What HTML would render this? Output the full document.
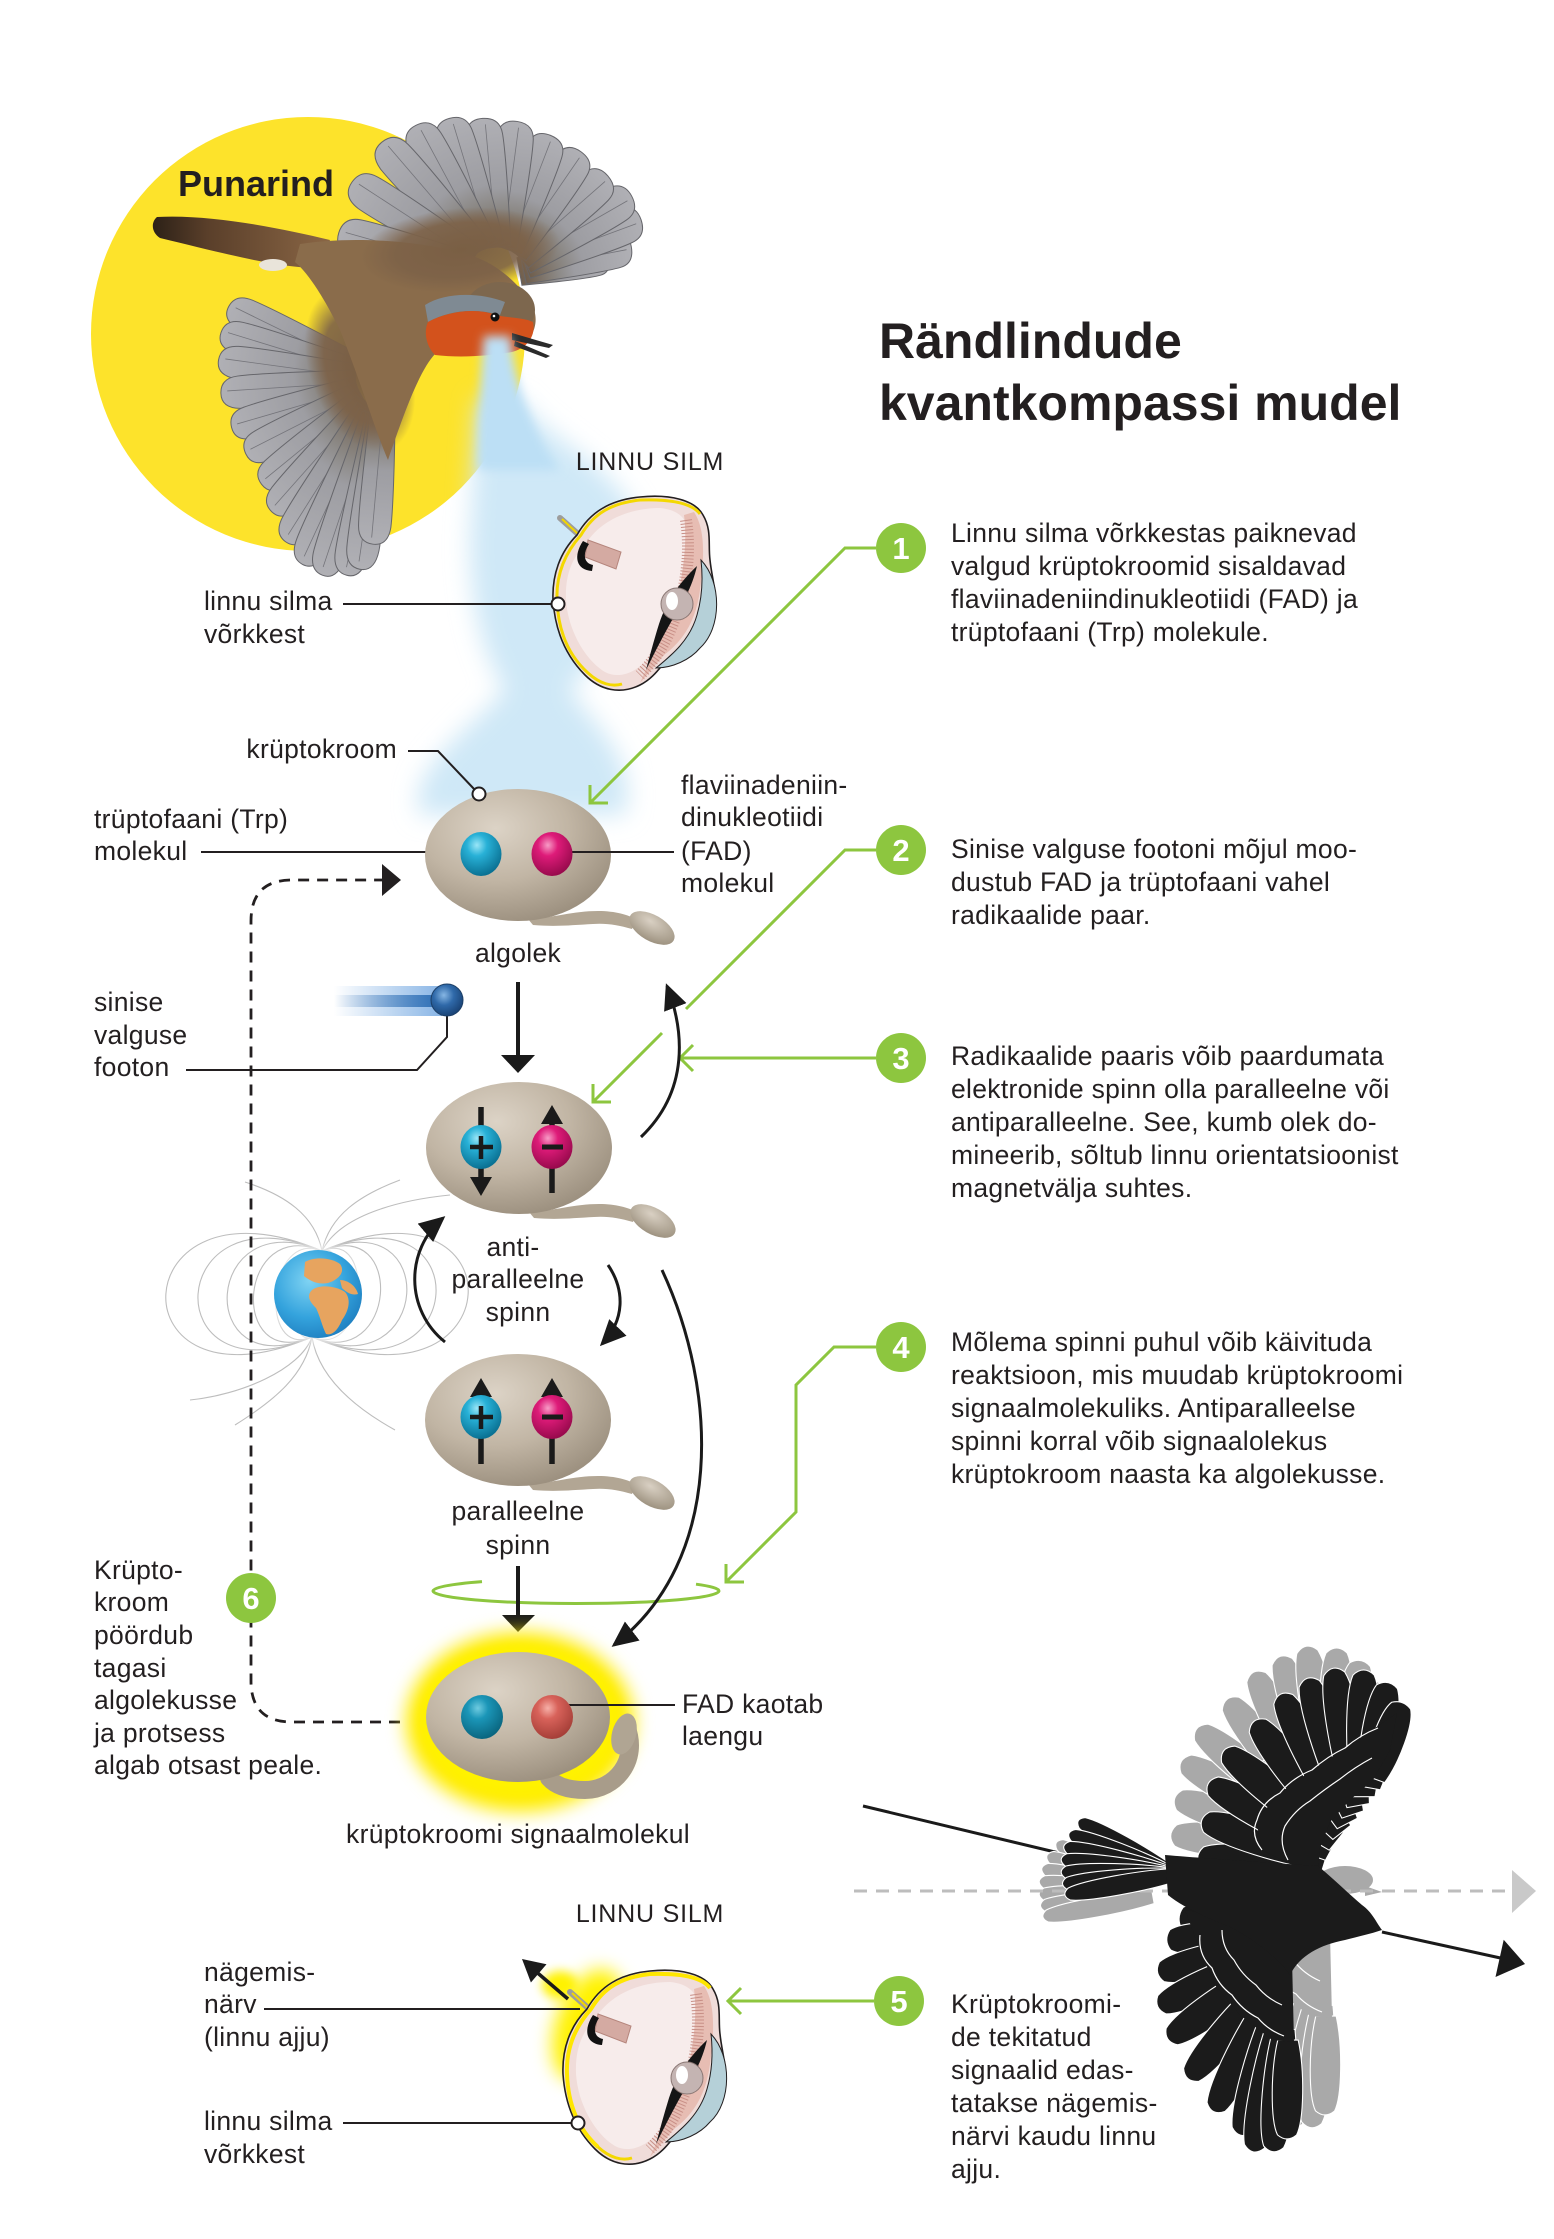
<!DOCTYPE html>
<html><head><meta charset="utf-8">
<style>
html,body{margin:0;padding:0;background:#fff;}
svg{display:block;}
text{font-family:"Liberation Sans",Arial,sans-serif;fill:#231f20;}
.t{font-size:26.5px;letter-spacing:0.3px;}
.n{font-size:31px;font-weight:bold;fill:#fff;text-anchor:middle;}
.m{text-anchor:middle;}
</style></head><body>
<svg width="1554" height="2239" viewBox="0 0 1554 2239" xmlns="http://www.w3.org/2000/svg">
<defs>
 <radialGradient id="bod" cx="38%" cy="30%" r="72%"><stop offset="0" stop-color="#dcd3c6"/><stop offset="0.55" stop-color="#c1b5a4"/><stop offset="1" stop-color="#9d9180"/></radialGradient>
 <radialGradient id="tlg" cx="40%" cy="30%" r="70%"><stop offset="0" stop-color="#d9d0c3"/><stop offset="1" stop-color="#9f9482"/></radialGradient>
 <radialGradient id="bb" cx="40%" cy="30%" r="70%"><stop offset="0" stop-color="#9ae6f7"/><stop offset="0.35" stop-color="#28b1d7"/><stop offset="1" stop-color="#0a7193"/></radialGradient>
 <radialGradient id="pb" cx="40%" cy="30%" r="70%"><stop offset="0" stop-color="#f79cc6"/><stop offset="0.35" stop-color="#de1b79"/><stop offset="1" stop-color="#990a4d"/></radialGradient>
 <radialGradient id="rb" cx="40%" cy="30%" r="70%"><stop offset="0" stop-color="#f6b0a8"/><stop offset="0.35" stop-color="#d8625a"/><stop offset="1" stop-color="#a63f38"/></radialGradient>
 <radialGradient id="tb" cx="40%" cy="30%" r="70%"><stop offset="0" stop-color="#6fcbe0"/><stop offset="0.35" stop-color="#1b96b8"/><stop offset="1" stop-color="#0a6680"/></radialGradient>
 <radialGradient id="ph" cx="40%" cy="35%" r="70%"><stop offset="0" stop-color="#86b6e4"/><stop offset="0.45" stop-color="#2f69a9"/><stop offset="1" stop-color="#173f70"/></radialGradient>
 <linearGradient id="tr1" x1="334" y1="0" x2="440" y2="0" gradientUnits="userSpaceOnUse"><stop offset="0" stop-color="#8ab6e6" stop-opacity="0"/><stop offset="1" stop-color="#8ab6e6"/></linearGradient>
 <linearGradient id="tr2" x1="334" y1="0" x2="440" y2="0" gradientUnits="userSpaceOnUse"><stop offset="0" stop-color="#2f6fb5" stop-opacity="0"/><stop offset="1" stop-color="#2f6fb5"/></linearGradient>
 <radialGradient id="globe" cx="40%" cy="35%" r="70%"><stop offset="0" stop-color="#7fd3f3"/><stop offset="0.6" stop-color="#34a3dd"/><stop offset="1" stop-color="#1f7fc0"/></radialGradient>
 <linearGradient id="fg" x1="0" y1="0" x2="1" y2="0"><stop offset="0" stop-color="#6f5e4c"/><stop offset="0.3" stop-color="#8c8986"/><stop offset="0.45" stop-color="#9d9da2"/><stop offset="1" stop-color="#b0b0b5"/></linearGradient>
 <linearGradient id="tailc" x1="155" y1="0" x2="330" y2="0" gradientUnits="userSpaceOnUse"><stop offset="0" stop-color="#2e2218"/><stop offset="0.3" stop-color="#5a3f2a"/><stop offset="1" stop-color="#8a6645"/></linearGradient>
 <radialGradient id="cov"><stop offset="0" stop-color="#7a5f44"/><stop offset="0.65" stop-color="#7d6248" stop-opacity="0.9"/><stop offset="1" stop-color="#7d6248" stop-opacity="0"/></radialGradient>
 <filter id="bl12" x="-50%" y="-50%" width="200%" height="200%"><feGaussianBlur stdDeviation="12"/></filter>
 <filter id="bl5" x="-50%" y="-50%" width="200%" height="200%"><feGaussianBlur stdDeviation="5"/></filter>
 <filter id="bl9" x="-50%" y="-50%" width="200%" height="200%"><feGaussianBlur stdDeviation="9"/></filter>
 <marker id="ah" markerUnits="userSpaceOnUse" markerWidth="28" markerHeight="28" viewBox="0 0 28 28" refX="23" refY="14" orient="auto"><path d="M0,2 L26,14 L0,26 Z" fill="#1a1a1a"/></marker>
 <g id="fth">
  <path d="M0.18,-0.07 C0.5,-0.09 0.8,-0.1 0.9,-0.095 Q1.015,-0.085 1.01,0 Q1.005,0.085 0.9,0.09 C0.8,0.095 0.5,0.085 0.18,0.07 Z" fill="url(#fg)" stroke="#66666b" stroke-width="1" vector-effect="non-scaling-stroke"/>
  <path d="M0.3,0 L0.97,0.01" stroke="#74747a" stroke-width="0.8" vector-effect="non-scaling-stroke" fill="none"/>
 </g>
 <path id="bf" d="M0,-0.3 C0.3,-0.5 0.8,-0.5 0.95,-0.28 Q1.03,0 0.95,0.28 C0.8,0.5 0.3,0.5 0,0.3 Z" stroke="#fff" stroke-width="1.1" vector-effect="non-scaling-stroke"/>
 <g id="uw">
  <use href="#bf" transform="translate(1320,1868) rotate(-174.9) scale(124,38)"/>
  <use href="#bf" transform="translate(1325.5,1859.1) rotate(-162.7) scale(131,38)"/>
  <use href="#bf" transform="translate(1330.9,1850.2) rotate(-151.5) scale(141,38)"/>
  <use href="#bf" transform="translate(1336.4,1841.3) rotate(-141.2) scale(146,38)"/>
  <use href="#bf" transform="translate(1341.8,1832.4) rotate(-128.3) scale(143,38)"/>
  <use href="#bf" transform="translate(1347.3,1823.5) rotate(-117.3) scale(147,38)"/>
  <use href="#bf" transform="translate(1352.7,1814.5) rotate(-108.4) scale(145,38)"/>
  <use href="#bf" transform="translate(1358.2,1805.6) rotate(-100.3) scale(141,38)"/>
  <use href="#bf" transform="translate(1363.6,1796.7) rotate(-90) scale(128,38)"/>
  <use href="#bf" transform="translate(1369.1,1787.8) rotate(-80) scale(108,38)"/>
  <use href="#bf" transform="translate(1374.5,1778.9) rotate(-70) scale(82,36)"/>
  <path d="M1318,1870 L1290,1864 L1262,1850 L1256,1820 L1280,1793 L1312,1770 L1345,1748 L1375,1728 L1397,1713 L1390,1750 L1373,1780 L1350,1800 L1330,1822 L1320,1848 Z"/>
  <path d="M1262,1850 Q1250,1835 1257,1820 Q1262,1802 1280,1793 Q1292,1778 1312,1770 Q1328,1756 1345,1748 Q1360,1735 1378,1728" fill="none" stroke="#fff" stroke-width="1.2"/>
  <path d="M1288,1860 Q1278,1842 1285,1826 Q1295,1810 1310,1801 Q1325,1789 1340,1779 Q1355,1767 1372,1758" fill="none" stroke="#fff" stroke-width="1.2"/>
 </g>
 <g id="lw">
  <use href="#bf" transform="translate(1250,1925) rotate(-173.5) scale(72,36)"/>
  <use href="#bf" transform="translate(1253.8,1936.5) rotate(177.7) scale(88,36)"/>
  <use href="#bf" transform="translate(1257.6,1948) rotate(166) scale(104,36)"/>
  <use href="#bf" transform="translate(1261.4,1959.5) rotate(155.5) scale(115,36)"/>
  <use href="#bf" transform="translate(1265.2,1971) rotate(144.9) scale(120,36)"/>
  <use href="#bf" transform="translate(1269,1982.5) rotate(130.1) scale(127,36)"/>
  <use href="#bf" transform="translate(1272.8,1994) rotate(116.7) scale(133,36)"/>
  <use href="#bf" transform="translate(1276.6,2005.5) rotate(105.6) scale(136,36)"/>
  <use href="#bf" transform="translate(1280.4,2017) rotate(101.4) scale(139,36)"/>
  <use href="#bf" transform="translate(1284.2,2028.5) rotate(95.1) scale(125,36)"/>
  <use href="#bf" transform="translate(1288,2040) rotate(90.6) scale(100,34)"/>
  <path d="M1185,1910 L1250,1920 L1292,1958 L1294,2042 L1272,2040 L1240,2015 L1215,1985 L1200,1950 Z"/>
  <path d="M1200,1935 Q1198,1955 1212,1968 Q1218,1985 1232,1995 Q1242,2010 1258,2018 Q1268,2030 1284,2036" fill="none" stroke="#fff" stroke-width="1.2"/>
  <path d="M1222,1930 Q1222,1948 1234,1960 Q1242,1975 1256,1985 Q1266,1998 1282,2005" fill="none" stroke="#fff" stroke-width="1.2"/>
 </g>
 <g id="tl">
  <use href="#bf" transform="translate(1175,1875) rotate(-150.7) scale(112,22)"/>
  <use href="#bf" transform="translate(1175,1875) rotate(-158.6) scale(115,22)"/>
  <use href="#bf" transform="translate(1175,1875) rotate(-165.5) scale(116,22)"/>
  <use href="#bf" transform="translate(1175,1875) rotate(-172.1) scale(116,22)"/>
  <use href="#bf" transform="translate(1175,1875) rotate(-178.5) scale(115,22)"/>
  <use href="#bf" transform="translate(1175,1875) rotate(175.5) scale(114,22)"/>
  <use href="#bf" transform="translate(1175,1875) rotate(169.8) scale(113,22)"/>
 </g>
 <g id="mol">
  <path d="M10,64 C35,63 55,56 80,56 C98,56 110,60 118,64 L114,74 C100,70 88,68 75,69 C55,70 38,72 15,70 Z" fill="#b2a694"/>
  <ellipse cx="134" cy="73" rx="25" ry="13" transform="rotate(30 134 73)" fill="url(#tlg)"/>
  <ellipse cx="0" cy="0" rx="93" ry="66" fill="url(#bod)"/>
 </g>
 <g id="eye">
  <path d="M578,534 L560,518" stroke="#9d9d9d" stroke-width="6" stroke-linecap="round"/>
  <path d="M578,534 L562,519" stroke="#f2d600" stroke-width="2"/>
  <path d="M577,535 C590,512 610,500 640,497 C670,494 695,500 703,515 C712,530 708,545 710,560 C712,580 718,595 715,615 C712,635 700,645 680,650 C665,655 660,675 640,685 C620,695 600,690 585,675 C565,655 555,630 553,600 C552,575 560,552 577,535 Z" fill="#f0dcd9" stroke="#231f20" stroke-width="1.6"/>
  <path d="M585,545 C600,520 630,508 660,508 C680,510 690,520 688,540 C686,580 672,620 655,650 C640,672 620,680 605,672 C585,660 568,630 566,600 C565,575 572,558 585,545 Z" fill="#f7eceb"/>
  <path d="M694,512 C706,530 704,560 700,590 C696,620 684,640 664,655 L640,683 C650,660 662,640 672,615 C682,585 688,545 684,515 Z" fill="#e7bdb3"/>
  <path d="M686,520 C692,560 684,600 668,635 C660,652 650,665 640,675" fill="none" stroke="#c88f86" stroke-width="12" stroke-dasharray="1 2.2"/>
  <path d="M701,560 C722,582 722,628 700,648 C690,660 672,668 656,668 C672,655 690,640 697,615 C702,598 703,578 701,560 Z" fill="#b5d0d8" stroke="#231f20" stroke-width="1"/>
  <path d="M697,566 C680,582 667,600 659,624 C654,640 650,655 646,670 C655,652 662,638 671,622 C682,604 692,588 697,566 Z" fill="#151515"/>
  <circle cx="677" cy="604" r="16" fill="#c4b4b2" stroke="#8a7774" stroke-width="1"/>
  <ellipse cx="672" cy="601" rx="6" ry="9" fill="#fff"/>
  <path d="M700,514 C692,503 670,499 640,500 C612,503 594,513 581,535 C565,553 556,575 557,600 C558,630 568,655 588,673 C600,684 612,687 622,684" fill="none" stroke="#f4d800" stroke-width="3"/>
  <path d="M588,540 L621,552 L616,569 L585,557 Z" fill="#d4aaa2" stroke="#b5857c" stroke-width="1"/>
  <path d="M583,541 C573,556 576,570 592,571 L593,565 C583,563 583,553 589,544 Z" fill="#111"/>
 </g>
</defs>

<!-- yellow sun -->
<circle cx="308" cy="334" r="217" fill="#fde32b"/>
<text x="178" y="196" style="font-size:36px;font-weight:bold;">Punarind</text>

<!-- robin -->
<g>
 <path d="M157,217 C210,214 280,228 330,240 L318,268 C280,268 230,255 160,238 C151,232 151,222 157,217 Z" fill="url(#tailc)"/>
 <ellipse cx="273" cy="265" rx="14" ry="6" fill="#e9e4da"/>
 <use href="#fth" transform="translate(385,380) rotate(-154.8) scale(171,175)"/>
 <use href="#fth" transform="translate(385,380) rotate(-163.8) scale(169,175)"/>
 <use href="#fth" transform="translate(385,380) rotate(-173.1) scale(166,175)"/>
 <use href="#fth" transform="translate(385,380) rotate(175.4) scale(163,175)"/>
 <use href="#fth" transform="translate(385,380) rotate(162.8) scale(159,175)"/>
 <use href="#fth" transform="translate(385,380) rotate(152.1) scale(156,175)"/>
 <use href="#fth" transform="translate(385,380) rotate(139.8) scale(160,175)"/>
 <use href="#fth" transform="translate(385,380) rotate(130.7) scale(172,175)"/>
 <use href="#fth" transform="translate(385,380) rotate(121.5) scale(188,175)"/>
 <use href="#fth" transform="translate(385,380) rotate(114.1) scale(200,175)"/>
 <use href="#fth" transform="translate(385,380) rotate(107.8) scale(203,175)"/>
 <use href="#fth" transform="translate(385,380) rotate(101.1) scale(197,175)"/>
 <use href="#fth" transform="translate(385,380) rotate(97.6) scale(189,175)"/>
 <use href="#fth" transform="translate(385,380) rotate(94.2) scale(163,175)"/>
 <ellipse cx="360" cy="370" rx="50" ry="85" transform="rotate(-20 360 370)" fill="url(#cov)"/>
 <use href="#fth" transform="translate(500,275) rotate(-10.2) scale(110,200)"/>
 <use href="#fth" transform="translate(500,275) rotate(-12.2) scale(133,200)"/>
 <use href="#fth" transform="translate(500,275) rotate(-21.4) scale(150,200)"/>
 <use href="#fth" transform="translate(500,275) rotate(-31) scale(152,200)"/>
 <use href="#fth" transform="translate(500,275) rotate(-42.5) scale(145,200)"/>
 <use href="#fth" transform="translate(500,275) rotate(-56.7) scale(146,200)"/>
 <use href="#fth" transform="translate(500,275) rotate(-70.1) scale(147,200)"/>
 <use href="#fth" transform="translate(500,275) rotate(-83.6) scale(153,200)"/>
 <use href="#fth" transform="translate(500,275) rotate(-96.3) scale(156,200)"/>
 <use href="#fth" transform="translate(500,275) rotate(-107.9) scale(163,200)"/>
 <use href="#fth" transform="translate(500,275) rotate(-119.3) scale(170,200)"/>
 <use href="#fth" transform="translate(500,275) rotate(-131.6) scale(176,200)"/>
 <use href="#fth" transform="translate(500,275) rotate(-147.9) scale(173,200)"/>
 <use href="#fth" transform="translate(500,275) rotate(-165.3) scale(165,200)"/>
 <path d="M300,244 C350,236 420,240 470,255 C500,265 520,285 532,305 C540,320 535,340 515,350 C495,357 460,356 435,354 C420,370 405,410 388,460 C375,430 360,380 340,330 C325,300 310,275 295,262 Z" fill="#8a6c4b"/>
 <ellipse cx="460" cy="250" rx="100" ry="42" transform="rotate(-5 460 250)" fill="url(#cov)"/>
 <ellipse cx="500" cy="310" rx="35" ry="28" fill="#7d674e"/>
 <path d="M425,305 C445,292 480,292 505,302 L500,315 C475,308 450,310 428,322 Z" fill="#7f8a93"/>
 <path d="M428,322 C450,310 480,308 495,315 C510,318 525,318 533,322 C536,335 528,348 512,352 C490,356 460,358 435,355 C425,345 424,330 428,322 Z" fill="#d3521c"/>
 <circle cx="495" cy="317" r="4.5" fill="#111"/>
 <circle cx="494" cy="316" r="1.3" fill="#fff"/>
 <path d="M512,333 L553,345 L549,348 L512,340 Z" fill="#2b2b2b"/>
 <path d="M515,341 L550,356 L546,358 L514,346 Z" fill="#2b2b2b"/>
</g>

<!-- light beam -->
<path d="M478,400 L520,400 C545,440 630,470 645,540 C650,600 610,640 570,690 C590,720 640,760 625,815 L420,815 C405,770 470,730 505,690 C480,650 470,600 470,540 Z" fill="#cfe8f7" filter="url(#bl12)"/>
<path d="M484,336 L510,336 C515,380 530,430 560,470 L478,470 C478,420 480,380 484,336 Z" fill="#bcdff5" filter="url(#bl5)"/>

<!-- title -->
<text x="879" y="358" style="font-size:50px;font-weight:bold;">Rändlindude</text>
<text x="879" y="420" style="font-size:50px;font-weight:bold;">kvantkompassi mudel</text>

<!-- top eye -->
<use href="#eye"/>
<text x="650" y="470" class="m" style="font-size:25px;letter-spacing:0.8px;">LINNU SILM</text>
<text x="204" y="610" class="t">linnu silma</text>
<text x="204" y="643" class="t">võrkkest</text>
<line x1="343" y1="604" x2="552" y2="604" stroke="#231f20" stroke-width="2"/>
<circle cx="558" cy="604" r="6.5" fill="#fff" stroke="#231f20" stroke-width="2"/>

<!-- earth field lines -->
<g fill="none" stroke="#bdbdbd" stroke-width="1.1">
 <path d="M322,1251 C350.6,1238.9 340.6,1349.1 312,1337"/>
 <path d="M322,1251 C293.4,1238.9 283.4,1349.1 312,1337"/>
 <path d="M322,1251 C376.6,1227.9 366.6,1360.1 312,1337"/>
 <path d="M322,1251 C267.4,1227.9 257.4,1360.1 312,1337"/>
 <path d="M322,1251 C406.5,1215.25 396.5,1372.75 312,1337"/>
 <path d="M322,1251 C237.5,1215.25 227.5,1372.75 312,1337"/>
 <path d="M322,1251 C441.6,1200.4 431.6,1387.6 312,1337"/>
 <path d="M322,1251 C202.4,1200.4 192.4,1387.6 312,1337"/>
 <path d="M322,1251 C480.6,1183.9 470.6,1404.1 312,1337"/>
 <path d="M322,1251 C163.4,1183.9 153.4,1404.1 312,1337"/>
 <path d="M322,1251 C523.5,1165.75 513.5,1422.25 312,1337"/>
 <path d="M322,1251 C120.5,1165.75 110.5,1422.25 312,1337"/>
 <path d="M322,1251 C330,1215 360,1195 400,1180"/>
 <path d="M322,1251 C315,1215 285,1195 245,1182"/>
 <path d="M322,1251 C340,1215 400,1200 450,1195"/>
 <path d="M312,1337 C318,1375 350,1405 395,1430"/>
 <path d="M312,1337 C305,1375 275,1400 235,1425"/>
 <path d="M312,1337 C300,1370 240,1395 190,1400"/>
</g>
<circle cx="318" cy="1294" r="50" fill="#fff" opacity="0.7" filter="url(#bl5)"/>
<circle cx="318" cy="1294" r="44" fill="url(#globe)"/>
<path d="M312,1290 C320,1284 336,1286 345,1292 C352,1300 348,1312 342,1320 C338,1330 332,1336 326,1334 C322,1326 320,1316 316,1308 C310,1302 306,1296 312,1290 Z" fill="#e7a45f"/>
<path d="M305,1262 C315,1256 332,1258 340,1264 C346,1272 338,1280 328,1283 C318,1285 310,1281 304,1276 Z" fill="#e7a45f"/>
<path d="M340,1280 C348,1280 356,1286 358,1294 C352,1296 346,1292 342,1288 Z" fill="#e7a45f"/>

<!-- green arrows -->
<g fill="none" stroke="#8dc63f" stroke-width="3">
 <polyline points="876,548 845,548 590,803"/>
 <polyline points="608,803 590,803 590,785"/>
 <polyline points="876,850 845,850 686,1009"/>
 <polyline points="662,1033 593,1102"/>
 <polyline points="611,1102 593,1102 593,1084"/>
 <line x1="876" y1="1058" x2="680" y2="1058"/>
 <polyline points="693,1045 680,1058 693,1071"/>
 <polyline points="876,1347 834,1347 796,1385 796,1512 726,1582"/>
 <polyline points="744,1582 726,1582 726,1564"/>
 <line x1="874" y1="2001" x2="728" y2="2001"/>
 <polyline points="741,1988 728,2001 741,2014"/>
 <path d="M433,1591 A143,12.5 0 0 0 719,1591"/>
 <path d="M433,1591 A143,12.5 0 0 1 482,1581.6"/>
 <path d="M696,1584.2 A143,12.5 0 0 1 719,1591"/>
</g>

<!-- dashed return line -->
<path d="M400,1722 L292,1722 Q251,1722 251,1681 L251,921 Q251,880 292,880 L384,880" stroke="#231f20" stroke-width="2.8" stroke-dasharray="11 8" fill="none"/>
<polygon points="382,864 401,880 382,896" fill="#231f20"/>

<!-- labels near algolek -->
<text x="397" y="758" class="t" text-anchor="end">krüptokroom</text>
<polyline points="408,751 438,751 475,790" fill="none" stroke="#231f20" stroke-width="2"/>
<text x="94" y="828" class="t">trüptofaani (Trp)</text>
<text x="94" y="860" class="t">molekul</text>
<line x1="201" y1="852" x2="470" y2="852" stroke="#231f20" stroke-width="2"/>
<text x="681" y="794" class="t">flaviinadeniin-</text>
<text x="681" y="826" class="t">dinukleotiidi</text>
<text x="681" y="860" class="t">(FAD)</text>
<text x="681" y="892" class="t">molekul</text>

<!-- algolek molecule -->
<use href="#mol" transform="translate(518,855)"/>
<ellipse cx="481" cy="854" rx="20.5" ry="22" fill="url(#bb)"/>
<line x1="565" y1="852" x2="674" y2="852" stroke="#231f20" stroke-width="2"/>
<ellipse cx="552" cy="854" rx="20.5" ry="22" fill="url(#pb)"/>
<circle cx="479" cy="794" r="6.5" fill="#fff" stroke="#231f20" stroke-width="2"/>
<text x="518" y="962" class="t m">algolek</text>

<!-- photon -->
<rect x="334" y="986" width="108" height="30" fill="url(#tr1)"/>
<rect x="334" y="995" width="108" height="12" fill="url(#tr2)"/>
<polyline points="447,1014 447,1037 417,1070 186,1070" fill="none" stroke="#231f20" stroke-width="2"/>
<circle cx="447" cy="1000" r="16" fill="url(#ph)" stroke="#1d3f66" stroke-width="1"/>
<text x="94" y="1011" class="t">sinise</text>
<text x="94" y="1044" class="t">valguse</text>
<text x="94" y="1076" class="t">footon</text>

<!-- arrow algolek -> anti -->
<line x1="518" y1="982" x2="518" y2="1058" stroke="#1a1a1a" stroke-width="4"/>
<polygon points="501,1055 535,1055 518,1073" fill="#1a1a1a"/>

<!-- anti molecule -->
<use href="#mol" transform="translate(519,1148)"/>
<line x1="481" y1="1107" x2="481" y2="1180" stroke="#1a1a1a" stroke-width="5.5"/>
<polygon points="470,1177 492,1177 481,1196" fill="#1a1a1a"/>
<line x1="552" y1="1193" x2="552" y2="1120" stroke="#1a1a1a" stroke-width="5.5"/>
<polygon points="541,1124 563,1124 552,1105" fill="#1a1a1a"/>
<ellipse cx="481" cy="1147" rx="20.5" ry="22" fill="url(#bb)"/>
<ellipse cx="552" cy="1147" rx="20.5" ry="22" fill="url(#pb)"/>
<line x1="470" y1="1147" x2="493" y2="1147" stroke="#1a1a1a" stroke-width="4.5"/>
<line x1="481" y1="1136" x2="481" y2="1159" stroke="#1a1a1a" stroke-width="4.5"/>
<line x1="542" y1="1147" x2="563" y2="1147" stroke="#1a1a1a" stroke-width="5"/>
<text x="513" y="1256" class="t m">anti-</text>
<text x="518" y="1288" class="t m">paralleelne</text>
<text x="518" y="1321" class="t m">spinn</text>

<!-- curved arrows -->
<g fill="none" stroke="#1a1a1a" stroke-width="3" marker-end="url(#ah)">
 <path d="M641,1137 C690,1090 684,1030 667,986"/>
 <path d="M445,1342 C405,1310 405,1250 443,1218"/>
 <path d="M608,1265 C625,1290 625,1320 602,1344"/>
 <path d="M662,1270 C718,1390 725,1560 614,1645"/>
</g>

<!-- parallel molecule -->
<use href="#mol" transform="translate(518,1420)"/>
<line x1="481" y1="1464" x2="481" y2="1395" stroke="#1a1a1a" stroke-width="5.5"/>
<polygon points="470,1397 492,1397 481,1378" fill="#1a1a1a"/>
<line x1="552" y1="1464" x2="552" y2="1395" stroke="#1a1a1a" stroke-width="5.5"/>
<polygon points="541,1397 563,1397 552,1378" fill="#1a1a1a"/>
<ellipse cx="481" cy="1417" rx="20.5" ry="22" fill="url(#bb)"/>
<ellipse cx="552" cy="1417" rx="20.5" ry="22" fill="url(#pb)"/>
<line x1="470" y1="1417" x2="493" y2="1417" stroke="#1a1a1a" stroke-width="4.5"/>
<line x1="481" y1="1406" x2="481" y2="1429" stroke="#1a1a1a" stroke-width="4.5"/>
<line x1="542" y1="1417" x2="563" y2="1417" stroke="#1a1a1a" stroke-width="5"/>
<text x="518" y="1520" class="t m">paralleelne</text>
<text x="518" y="1554" class="t m">spinn</text>

<!-- arrow parallel -> signal -->
<line x1="518" y1="1566" x2="518" y2="1618" stroke="#1a1a1a" stroke-width="4"/>
<polygon points="502,1615 535,1615 518,1632" fill="#1a1a1a"/>

<!-- signal molecule -->
<ellipse cx="520" cy="1722" rx="114" ry="90" fill="#ffec00" filter="url(#bl9)"/>
<ellipse cx="520" cy="1720" rx="100" ry="75" fill="#fff200" filter="url(#bl5)"/>
<path d="M626,1726 C640,1760 615,1790 585,1790 C568,1790 556,1786 549,1778" stroke="#a89c8a" stroke-width="18" stroke-linecap="round" fill="none"/>
<ellipse cx="624" cy="1734" rx="12" ry="21" transform="rotate(15 624 1734)" fill="#b0a593"/>
<ellipse cx="518" cy="1717" rx="92" ry="65" fill="url(#bod)"/>
<line x1="565" y1="1705" x2="675" y2="1705" stroke="#231f20" stroke-width="2"/>
<ellipse cx="482" cy="1717" rx="21" ry="22" fill="url(#tb)"/>
<ellipse cx="552" cy="1717" rx="21" ry="22" fill="url(#rb)"/>
<text x="682" y="1713" class="t">FAD kaotab</text>
<text x="682" y="1745" class="t">laengu</text>
<text x="518" y="1843" class="t m">krüptokroomi signaalmolekul</text>

<!-- step 6 text -->
<text x="94" y="1579" class="t">Krüpto-</text>
<text x="94" y="1611" class="t">kroom</text>
<text x="94" y="1644" class="t">pöördub</text>
<text x="94" y="1677" class="t">tagasi</text>
<text x="94" y="1709" class="t">algolekusse</text>
<text x="94" y="1742" class="t">ja protsess</text>
<text x="94" y="1774" class="t">algab otsast peale.</text>

<!-- bottom eye -->
<ellipse cx="588" cy="2025" rx="32" ry="58" transform="rotate(20 588 2025)" fill="#fff200" filter="url(#bl9)"/>
<ellipse cx="560" cy="1985" rx="18" ry="14" fill="#fff200" filter="url(#bl5)"/>
<use href="#eye" transform="translate(10,1474)"/>
<path d="M710,1988 C702,1977 680,1973 650,1974 C622,1977 604,1987 591,2009 C575,2027 566,2049 567,2074 C568,2104 578,2129 598,2147" fill="none" stroke="#ffe600" stroke-width="4"/>
<line x1="568" y1="1999" x2="533" y2="1969" stroke="#1a1a1a" stroke-width="3.5"/>
<polygon points="522,1959 546.5,1964.3 530.9,1982.5" fill="#1a1a1a"/>
<text x="650" y="1922" class="m" style="font-size:25px;letter-spacing:0.8px;">LINNU SILM</text>
<text x="204" y="1981" class="t">nägemis-</text>
<text x="204" y="2013" class="t">närv</text>
<text x="204" y="2046" class="t">(linnu ajju)</text>
<line x1="264" y1="2009" x2="580" y2="2009" stroke="#231f20" stroke-width="2"/>
<text x="204" y="2130" class="t">linnu silma</text>
<text x="204" y="2163" class="t">võrkkest</text>
<line x1="343" y1="2123" x2="572" y2="2123" stroke="#231f20" stroke-width="2"/>
<circle cx="578" cy="2123" r="6.5" fill="#fff" stroke="#231f20" stroke-width="2"/>

<!-- numbered circles -->
<g fill="#8dc63f">
 <circle cx="901" cy="548" r="25"/>
 <circle cx="901" cy="850" r="25"/>
 <circle cx="901" cy="1058" r="25"/>
 <circle cx="901" cy="1347" r="25"/>
 <circle cx="899" cy="2001" r="25"/>
 <circle cx="251" cy="1598" r="25"/>
</g>
<text x="901" y="559" class="n">1</text>
<text x="901" y="861" class="n">2</text>
<text x="901" y="1069" class="n">3</text>
<text x="901" y="1358" class="n">4</text>
<text x="899" y="2012" class="n">5</text>
<text x="251" y="1609" class="n">6</text>

<!-- paragraphs -->
<text x="951" y="542" class="t">Linnu silma võrkkestas paiknevad</text>
<text x="951" y="575" class="t">valgud krüptokroomid sisaldavad</text>
<text x="951" y="608" class="t">flaviinadeniindinukleotiidi (FAD) ja</text>
<text x="951" y="641" class="t">trüptofaani (Trp) molekule.</text>

<text x="951" y="858" class="t">Sinise valguse footoni mõjul moo-</text>
<text x="951" y="891" class="t">dustub FAD ja trüptofaani vahel</text>
<text x="951" y="924" class="t">radikaalide paar.</text>

<text x="951" y="1065" class="t">Radikaalide paaris võib paardumata</text>
<text x="951" y="1098" class="t">elektronide spinn olla paralleelne või</text>
<text x="951" y="1131" class="t">antiparalleelne. See, kumb olek do-</text>
<text x="951" y="1164" class="t">mineerib, sõltub linnu orientatsioonist</text>
<text x="951" y="1197" class="t">magnetvälja suhtes.</text>

<text x="951" y="1351" class="t">Mõlema spinni puhul võib käivituda</text>
<text x="951" y="1384" class="t">reaktsioon, mis muudab krüptokroomi</text>
<text x="951" y="1417" class="t">signaalmolekuliks. Antiparalleelse</text>
<text x="951" y="1450" class="t">spinni korral võib signaalolekus</text>
<text x="951" y="1483" class="t">krüptokroom naasta ka algolekusse.</text>

<text x="951" y="2013" class="t">Krüptokroomi-</text>
<text x="951" y="2046" class="t">de tekitatud</text>
<text x="951" y="2079" class="t">signaalid edas-</text>
<text x="951" y="2112" class="t">tatakse nägemis-</text>
<text x="951" y="2145" class="t">närvi kaudu linnu</text>
<text x="951" y="2178" class="t">ajju.</text>

<!-- black bird (bottom right) -->
<line x1="863" y1="1806" x2="1080" y2="1858" stroke="#1a1a1a" stroke-width="3"/>
<use href="#uw" fill="#a9a9a9" transform="translate(-27,-22)"/>
<use href="#lw" fill="#a9a9a9" transform="translate(38,-24)"/>
<use href="#tl" fill="#a9a9a9" transform="translate(-22,22)"/>
<ellipse cx="1345" cy="1880" rx="28" ry="14" fill="#a9a9a9"/>
<polygon points="1365,1886 1382,1892 1365,1896" fill="#a9a9a9"/>
<line x1="854" y1="1891" x2="1512" y2="1891" stroke="#bdbdbd" stroke-width="3" stroke-dasharray="13 9"/>
<polygon points="1512,1870 1536,1891 1512,1913" fill="#c9c9c9"/>
<use href="#tl" fill="#1b1b1b"/>
<use href="#lw" fill="#1b1b1b"/>
<use href="#uw" fill="#1b1b1b"/>
<path d="M1165,1855 C1200,1858 1260,1862 1318,1866 C1335,1880 1350,1895 1362,1905 C1372,1912 1376,1922 1382,1930 C1370,1934 1360,1936 1345,1940 C1320,1945 1300,1955 1290,1975 C1280,1960 1250,1935 1225,1925 C1200,1915 1180,1905 1168,1895 Z" fill="#1b1b1b"/>
<line x1="1382" y1="1932" x2="1505" y2="1959" stroke="#1a1a1a" stroke-width="3"/>
<polygon points="1525,1964 1503.7,1939.8 1495.5,1977" fill="#1a1a1a"/>
</svg>
</body></html>
